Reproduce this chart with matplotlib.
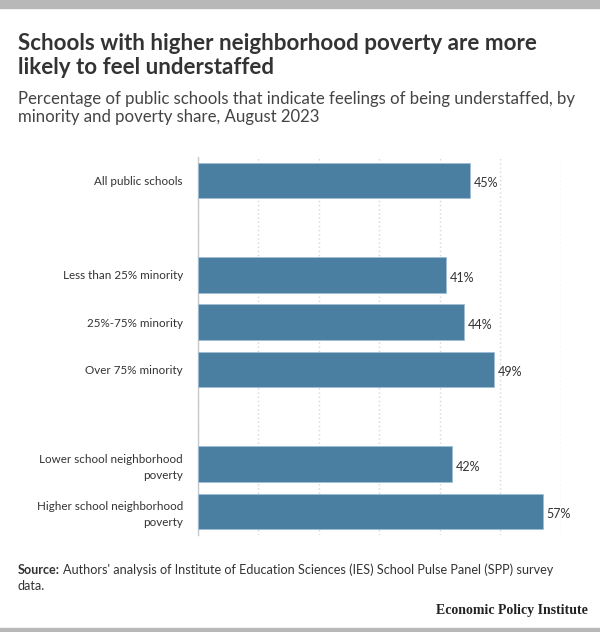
import numpy as np
import matplotlib.pyplot as plt
from matplotlib.patches import Rectangle

# data
categories = ["All public schools", "", "Less than 25% minority", "25%-75% minority",
              "Over 75% minority", "", "Lower school neighborhood\npoverty",
              "Higher school neighborhood\npoverty"]
values = [45, None, 41, 44, 49, None, 42, 57]
xticks = [0, 10, 20, 30, 40, 50, 60]

bar_color = "#4a7fa2"
text_dark = "#333333"
font = "Lato"
H = 632

fig = plt.figure(figsize=(6.0, 6.32), dpi=100)

# gray bands top and bottom
fig.patches.append(Rectangle((0, 1 - 8 / H), 1, 8 / H, transform=fig.transFigure,
                             color="#b8b8b8", zorder=0))
fig.patches.append(Rectangle((0, 0), 1, 4 / H, transform=fig.transFigure,
                             color="#b8b8b8", zorder=0))

ax = fig.add_axes([198 / 600, 1 - 535 / H, 362.7 / 600, 378.3 / H])

pos = np.arange(len(categories))
for i, v in enumerate(values):
    if v is None:
        continue
    ax.barh(pos[i], v, height=0.75, color=bar_color, edgecolor="#9fbfd6",
            linewidth=0.6, zorder=3)
    ax.text(v + 0.6, pos[i] + 0.06, f"{v}%", va="center", ha="left",
            fontsize=9, color=text_dark, family=font)

ax.set_xlim(0, 60)
ax.set_ylim(len(categories) - 0.5, -0.5)
ax.set_xticks(xticks)
ax.set_yticks(pos)
ax.set_yticklabels(categories, fontsize=8.4, color=text_dark, family=font,
                   linespacing=1.55)
for lbl in ax.get_yticklabels():
    lbl.set_y(lbl.get_position()[1])
ax.tick_params(axis="both", length=0)
ax.tick_params(axis="y", pad=10.8)
ax.set_xticklabels([])
ax.grid(axis="x", color="#d6d6d6", linestyle=(0, (1, 2)), linewidth=1.0, zorder=0)
for s in ["top", "right", "bottom"]:
    ax.spines[s].set_visible(False)
ax.spines["left"].set_color("#c8c8c8")
ax.spines["left"].set_linewidth(1.0)

# titles
fig.text(18 / 600, 1 - 50 / H, "Schools with higher neighborhood poverty are more",
         fontsize=16.1, fontweight="bold", color=text_dark, family=font,
         va="baseline", ha="left")
fig.text(18 / 600, 1 - 73.5 / H, "likely to feel understaffed",
         fontsize=16.1, fontweight="bold", color=text_dark, family=font,
         va="baseline", ha="left")
fig.text(18 / 600, 1 - 104 / H,
         "Percentage of public schools that indicate feelings of being understaffed, by",
         fontsize=12.1, color="#444444", family=font, va="baseline", ha="left")
fig.text(18 / 600, 1 - 122 / H, "minority and poverty share, August 2023",
         fontsize=12.1, color="#444444", family=font, va="baseline", ha="left")

# source
src = fig.text(18 / 600, 1 - 573.5 / H, "Source:", fontsize=9.1, color=text_dark,
               family=font, va="baseline", ha="left", fontweight="bold")
renderer = fig.canvas.get_renderer()
bb = src.get_window_extent(renderer=renderer)
fig.text((bb.x1 + 3) / 600, 1 - 573.5 / H,
         "Authors' analysis of Institute of Education Sciences (IES) School Pulse Panel (SPP) survey",
         fontsize=9.1, color=text_dark, family=font, va="baseline", ha="left")
fig.text(18 / 600, 1 - 590 / H, "data.", fontsize=9.1, color=text_dark,
         family=font, va="baseline", ha="left")

fig.text(588 / 600, 1 - 614 / H, "Economic Policy Institute", fontsize=10,
         fontweight="bold", color="#222222", family="Liberation Serif",
         va="baseline", ha="right")

fig.savefig("out.png", dpi=100, facecolor="white")
